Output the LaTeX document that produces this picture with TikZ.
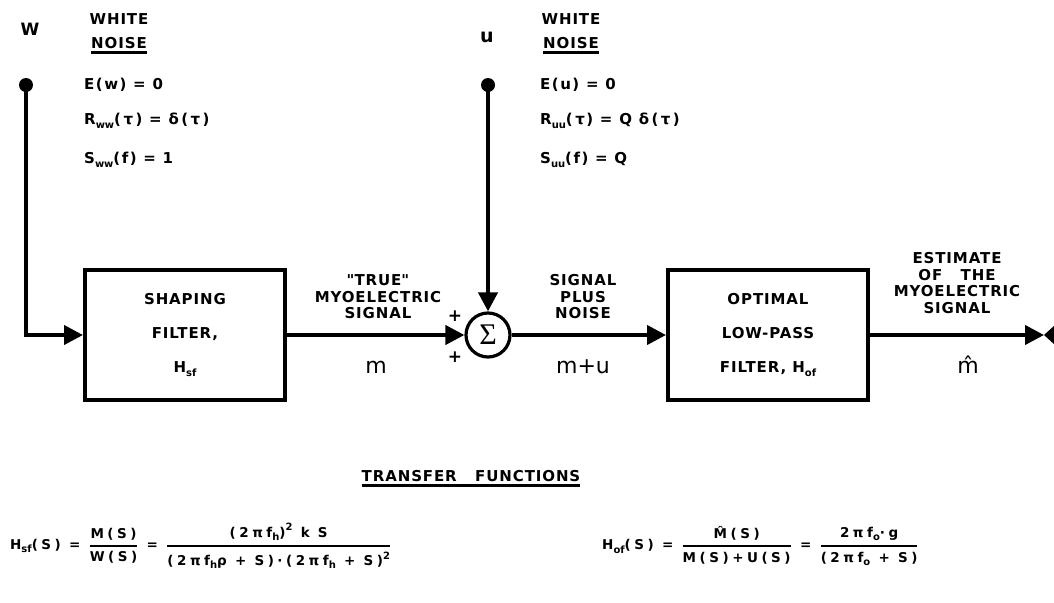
\documentclass[tikz,border=0pt]{standalone}
\usepackage{fontspec}
\usepackage{amsmath}
\setmainfont{DejaVu Sans}[LetterSpace=6]
\newfontfamily\plainfont{DejaVu Sans}
\newfontfamily\greekserif{Liberation Serif}
\usetikzlibrary{arrows.meta}
\newcommand\sbs[1]{\raisebox{-0.45ex}{\fontsize{10}{10}\selectfont\addfontfeature{LetterSpace=0}#1}}
\newcommand\sps[1]{\raisebox{0.9ex}{\fontsize{10}{10}\selectfont\addfontfeature{LetterSpace=0}#1}}
\newcommand\myfrac[2]{\ensuremath{\genfrac{}{}{1.6pt}{0}{\text{#1}}{\text{#2}}}}
\newcommand\sq{{\addfontfeature{Ligatures=TeXOff}"}}
\begin{document}
\begin{tikzpicture}[x=1pt,y=-1pt,
  lbl/.style={font=\bfseries\fontsize{15}{16.5}\selectfont, align=center, inner sep=0},
  eq/.style={font=\bfseries\fontsize{15}{15}\selectfont\addfontfeature{LetterSpace=10}, anchor=west, inner sep=0},
  sym/.style={font=\plainfont\fontsize{22}{22}\selectfont, inner sep=0},
  blk/.style={draw, line width=4pt, minimum width=200pt, minimum height=130pt, inner sep=0, align=center,
    font=\bfseries\fontsize{15}{34}\selectfont},
  sumnode/.style={draw, circle, line width=3.2pt, minimum size=44pt, inner sep=0, font=\greekserif\fontsize{30}{30}\selectfont},
  src/.style={circle, fill, minimum size=14pt, inner sep=0},
  wire/.style={line width=4pt, -{Triangle[length=19pt,width=19pt]}},
  uline/.style={line width=2.8pt},
  pls/.style={font=\bfseries\fontsize{17}{17}\selectfont, inner sep=0},
  formula/.style={font=\bfseries\fontsize{13.5}{15}\selectfont\addfontfeature{LetterSpace=26}, anchor=west, inner sep=0}]
\useasboundingbox (0,0) rectangle (1054,602);

% sources
\node[src] (wdot) at (26,85) {};
\node[src] (udot) at (488,85) {};
\node[lbl, font=\bfseries\fontsize{17}{17}\selectfont] (wlab) at (30,29) {W};
\node[lbl, font=\bfseries\fontsize{19}{19}\selectfont] (ulab) at (487,37) {u};

\node[lbl] (wh1) at (119,19) {WHITE};
\node[lbl] (wn1) at (119,43) {NOISE};
\draw[uline] ([yshift=-3.5pt]wn1.south west) -- ([yshift=-3.5pt]wn1.south east);
\node[eq] (ew) at (84,85) {E(w) = 0};
\node[eq] (rw) at (84,121) {R\sbs{ww}(\,τ\,) = δ\,(\,τ\,)};
\node[eq] (sw) at (84,160) {S\sbs{ww}(f) = 1};

\node[lbl] (wh2) at (571,19) {WHITE};
\node[lbl] (wn2) at (571,43) {NOISE};
\draw[uline] ([yshift=-3.5pt]wn2.south west) -- ([yshift=-3.5pt]wn2.south east);
\node[eq] (eu) at (540,85) {E(u) = 0};
\node[eq] (ru) at (540,121) {R\sbs{uu}(\,τ) = Q δ\,(\,τ\,)};
\node[eq] (su) at (540,160) {S\sbs{uu}(f) = Q};

% blocks
\node[blk] (sf) at (185,335) {SHAPING\\FILTER,\\H\sbs{sf}};
\node[sumnode] (sum) at (488,335) {Σ};
\node[blk] (of) at (768,335) {OPTIMAL\\LOW-PASS\\FILTER, H\sbs{of}};
\coordinate (out) at (1044,335);

% wires
\draw[wire] (wdot.center) |- (sf.west);
\draw[wire] (sf.east) -- (sum.west);
\draw[wire] (udot.center) -- (sum.north);
\draw[wire] (sum.east) -- (of.west);
\draw[wire] (of.east) -- (out);
\fill (out) -- (1055,325) -- (1055,345) -- cycle;

% signal labels
\node[lbl] (true) at (378,297) {\sq TRUE\sq\\MYOELECTRIC\\SIGNAL};
\node[sym] (m) at (376,367) {m};
\node[pls] (p1) at (455,316) {+};
\node[pls] (p2) at (455,357) {+};
\node[lbl] (spn) at (583,297) {SIGNAL\\PLUS\\NOISE};
\node[sym] (mu) at (583,367) {m+u};
\node[lbl] (est) at (957,283) {ESTIMATE\\OF\ \ \ THE\\MYOELECTRIC\\SIGNAL};
\node[sym] (mh) at (968,365) {\^m};

% transfer functions
\node[lbl] (tf) at (471,476) {TRANSFER\ \ \ FUNCTIONS};
\draw[uline] ([yshift=-3.5pt]tf.south west) -- ([yshift=-3.5pt]tf.south east);

\node[formula] (hsf) at (10,546) {H\sbs{sf}(S) = \myfrac{M(S)}{W(S)} = \myfrac{(2πf\sbs{h})\sps{2} k S}{(2πf\sbs{h}ρ + S)·(2πf\sbs{h} + S)\sps{2}}};
\node[formula] (hof) at (602,546) {H\sbs{of}(S) = \myfrac{\^M(S)}{M(S)+U(S)} = \myfrac{2πf\sbs{o}·g}{(2πf\sbs{o} + S)}};
\end{tikzpicture}
\end{document}
